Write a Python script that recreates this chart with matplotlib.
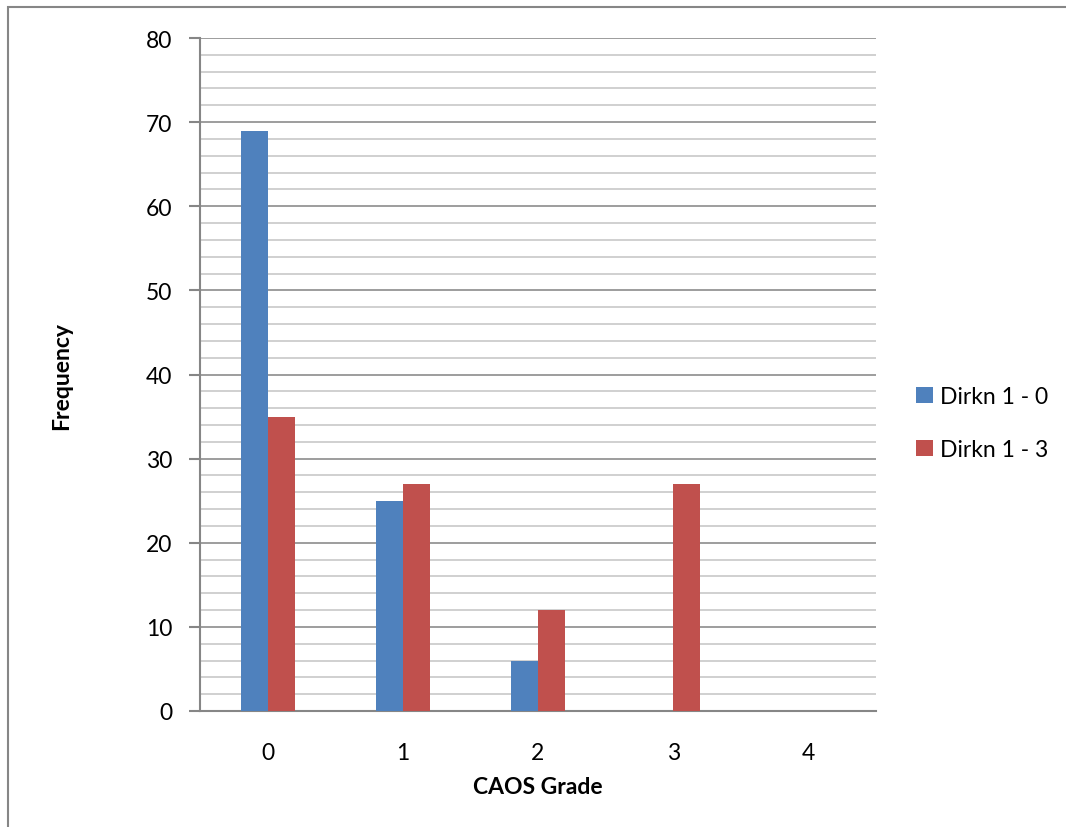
import numpy as np
import matplotlib.pyplot as plt
from matplotlib.patches import Rectangle

# data
grades = ["0", "1", "2", "3", "4"]
dirkn_1_0 = [69, 25, 6, 0, 0]
dirkn_1_3 = [35, 27, 12, 27, 0]
series_names = ["Dirkn 1 - 0", "Dirkn 1 - 3"]

plt.rcParams['font.family'] = ['Lato', 'DejaVu Sans']

fig = plt.figure(figsize=(10.66, 8.28), dpi=100)
ax = fig.add_axes([200/1066, 1 - 712/828, 676/1066, 673/828])

# outer chart border (only top/left visible in the reference)
fig.patches.append(Rectangle((8/1066, -0.1), 1.2, 1 - 8/828 + 0.1,
                             transform=fig.transFigure, fill=False,
                             edgecolor='#868686', linewidth=1.5))

x = np.arange(len(grades))
w = 0.2
ax.bar(x - w/2, dirkn_1_0, w, color='#4F81BD', label=series_names[0], zorder=3)
ax.bar(x + w/2, dirkn_1_3, w, color='#C0504D', label=series_names[1], zorder=3)

ax.set_xlim(-0.5, 4.5)
ax.set_ylim(0, 80)
ax.set_yticks(range(0, 81, 10))
ax.set_yticks(range(0, 81, 2), minor=True)
ax.set_xticks(x)
ax.set_xticklabels(grades)

ax.grid(axis='y', which='minor', color='#C8C8C8', linewidth=1.2, zorder=0)
ax.grid(axis='y', which='major', color='#8C8C8C', linewidth=1.2, zorder=1)

for s in ['top', 'right']:
    ax.spines[s].set_visible(False)
for s in ['left', 'bottom']:
    ax.spines[s].set_color('#868686')
    ax.spines[s].set_linewidth(1.5)

ax.tick_params(axis='y', which='major', length=8, color='#868686', width=1.5,
               labelsize=16.5, pad=12)
ax.tick_params(axis='y', which='minor', length=0)
ax.tick_params(axis='x', length=0, labelsize=16.5, pad=22)

ax.set_xlabel("CAOS Grade", fontsize=16.5, fontweight='bold', labelpad=10)
ax.set_ylabel("Frequency", fontsize=16.5, fontweight='bold', labelpad=53)

ax.legend(loc='center left', bbox_to_anchor=(1.045, 0.428), frameon=False,
          fontsize=16.5, handlelength=0.75, handleheight=0.75, labelspacing=1.4,
          handletextpad=0.3, borderaxespad=0)

fig.savefig("out.png", dpi=100)
